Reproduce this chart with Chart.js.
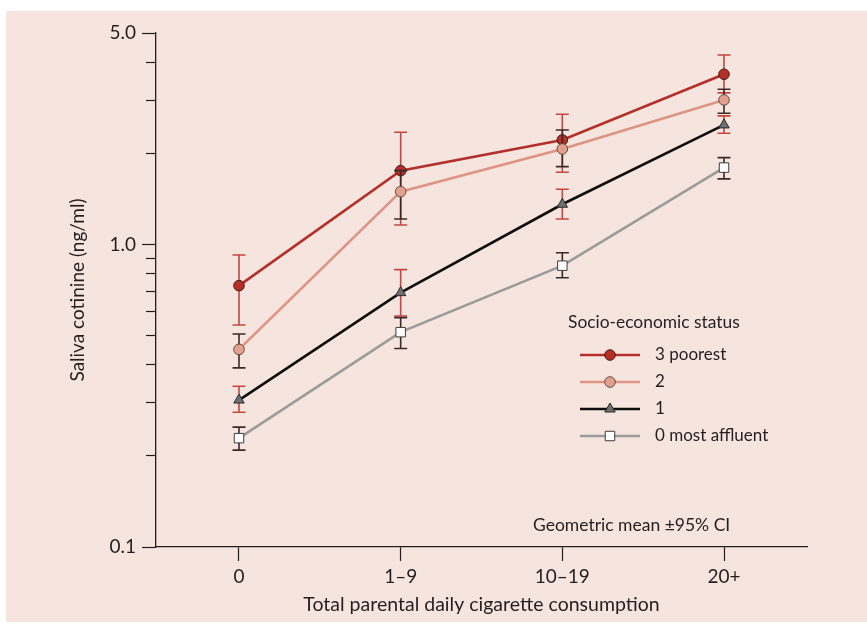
<!DOCTYPE html>
<html><head><meta charset="utf-8">
<script src="https://cdn.jsdelivr.net/npm/chart.js@4"></script>
<style>html,body{margin:0;padding:0;background:#fff}#wrap{width:867px;height:628px;position:relative}</style>
</head><body><div id="wrap"><canvas id="c"></canvas></div>
<script>
// ---- data ----
const categories = ['0', '1–9', '10–19', '20+'];
const seriesNames = ['3 poorest', '2', '1', '0 most affluent'];

const poorest      = [0.731, 1.754, 2.216, 3.653];
const poorestLow   = [0.542, 1.160, 1.733, 3.170];
const poorestHigh  = [0.923, 2.349, 2.695, 4.230];

const ses2         = [0.450, 1.495, 2.069, 3.004];
const ses2Low      = [0.391, 1.214, 1.808, 2.715];
const ses2High     = [0.506, 1.754, 2.391, 3.260];

const ses1         = [0.306, 0.693, 1.358, 2.484];
const ses1Low      = [0.279, 0.580, 1.214, 2.331];
const ses1High     = [0.340, 0.826, 1.522, 2.660];

const affluent     = [0.229, 0.513, 0.851, 1.795];
const affluentLow  = [0.209, 0.453, 0.776, 1.647];
const affluentHigh = [0.249, 0.573, 0.939, 1.936];

const yTickValues = [0.1, 0.2, 0.3, 0.4, 0.5, 0.6, 0.7, 0.8, 0.9, 1, 2, 3, 4, 5];
const yTickLabels = ['0.1', '1.0', '5.0'];
const yLabelledValues = [0.1, 1, 5];

const xTitle = 'Total parental daily cigarette consumption';
const yTitle = 'Saliva cotinine (ng/ml)';
const legendTitle = 'Socio-economic status';
const noteText = 'Geometric mean ±95% CI';

// ---- styling ----
const FONT = 'Lato, "Open Sans", sans-serif';
const TXT = '#231f20';
const styles = [
  {line: '#b3302a', fill: '#b52f27', border: '#4a1c17', shape: 'circle', r: 5.3, err: '#c4473f'},
  {line: '#dd9483', fill: '#e2a18e', border: '#6b4a40', shape: 'circle', r: 5.3, err: '#3a2b2a'},
  {line: '#0f0f0f', fill: '#6f6f6f', border: '#2a2a2a', shape: 'triangle', r: 6, err: '#c4473f'},
  {line: '#9b9b9b', fill: '#ffffff', border: '#3d3d3d', shape: 'rect', r: 6.7, err: '#3a2b2a'}
];
const values = [poorest, ses2, ses1, affluent];
const lows = [poorestLow, ses2Low, ses1Low, affluentLow];
const highs = [poorestHigh, ses2High, ses1High, affluentHigh];

const datasets = values.map((vals, k) => ({
  label: seriesNames[k],
  data: vals.map((v, i) => ({x: i, y: v})),
  borderColor: styles[k].line,
  borderWidth: 2.6,
  pointStyle: styles[k].shape,
  pointRadius: styles[k].r,
  pointHoverRadius: styles[k].r,
  pointBackgroundColor: styles[k].fill,
  pointBorderColor: styles[k].border,
  pointBorderWidth: 1,
  tension: 0,
  fill: false,
  order: 3 - k
}));

const bgPlugin = {
  id: 'bg',
  beforeDraw(chart) {
    const c = chart.ctx;
    c.save();
    c.fillStyle = '#ffffff';
    c.fillRect(0, 0, chart.width, chart.height);
    c.fillStyle = '#f6e4de';
    c.fillRect(6, 11, chart.width - 6, 611);
    c.restore();
  }
};

const errPlugin = {
  id: 'errbars',
  beforeDatasetDraw(chart, args) {
    const k = args.index;
    const xs = chart.scales.x, ys = chart.scales.y;
    const c = chart.ctx;
    c.save();
    c.strokeStyle = styles[k].err;
    c.lineWidth = 1.6;
    lows[k].forEach((lo, i) => {
      const x = xs.getPixelForValue(i);
      const y1 = ys.getPixelForValue(lo);
      const y2 = ys.getPixelForValue(highs[k][i]);
      c.beginPath();
      c.moveTo(x, y1); c.lineTo(x, y2);
      c.moveTo(x - 6.5, y1); c.lineTo(x + 6.5, y1);
      c.moveTo(x - 6.5, y2); c.lineTo(x + 6.5, y2);
      c.stroke();
    });
    c.restore();
  }
};

function drawMarker(c, st, x, y) {
  c.save();
  c.fillStyle = st.fill; c.strokeStyle = st.border; c.lineWidth = 1;
  c.beginPath();
  if (st.shape === 'circle') {
    c.arc(x, y, st.r, 0, Math.PI * 2);
  } else if (st.shape === 'triangle') {
    for (let j = 0; j < 3; j++) {
      const a = j * 2 * Math.PI / 3;
      const px = x + Math.sin(a) * st.r, py = y - Math.cos(a) * st.r;
      if (j === 0) c.moveTo(px, py); else c.lineTo(px, py);
    }
    c.closePath();
  } else {
    const s = Math.SQRT1_2 * st.r;
    c.rect(x - s, y - s, 2 * s, 2 * s);
  }
  c.fill(); c.stroke();
  c.restore();
}

const legendPlugin = {
  id: 'customLegend',
  afterDraw(chart) {
    const c = chart.ctx;
    c.save();
    c.fillStyle = TXT;
    c.textBaseline = 'middle';
    c.textAlign = 'left';
    c.font = '17.4px ' + FONT;
    c.fillText(legendTitle, 568, 322);
    c.font = '17px ' + FONT;
    chart.data.datasets.forEach((ds, k) => {
      const y = 355 + k * 27;
      c.strokeStyle = ds.borderColor;
      c.lineWidth = 2.6;
      c.beginPath(); c.moveTo(580, y); c.lineTo(640, y); c.stroke();
      drawMarker(c, styles[k], 610, y);
      c.fillStyle = TXT;
      c.fillText(ds.label, 655, y);
    });
    c.font = '17.5px ' + FONT;
    c.fillText(noteText, 533, 525);
    c.restore();
  }
};

const isMajor = v => yLabelledValues.some(m => Math.abs(m - v) < 1e-9);

new Chart(document.getElementById('c'), {
  type: 'line',
  data: {datasets},
  options: {
    responsive: true,
    maintainAspectRatio: false,
    animation: false,
    events: [],
    layout: {padding: {top: 33, right: 60, left: 0, bottom: 0}},
    plugins: {legend: {display: false}, tooltip: {enabled: false}},
    scales: {
      x: {
        type: 'linear',
        min: -0.5134, max: 3.5134,
        afterBuildTicks: s => { s.ticks = categories.map((_, i) => ({value: i})); },
        afterFit: s => { s.height = 81; },
        ticks: {
          callback: v => categories[v] ?? '',
          color: TXT, font: {family: FONT, size: 19}, padding: 4,
          autoSkip: false, maxRotation: 0
        },
        grid: {drawOnChartArea: false, drawTicks: true, tickLength: 14, tickColor: TXT, tickWidth: 1.2},
        border: {display: true, color: TXT, width: 1.3},
        title: {display: true, text: xTitle, color: TXT, font: {family: FONT, size: 19.5}, padding: {top: 0, bottom: 11.5}}
      },
      y: {
        type: 'logarithmic',
        min: 0.1, max: 5,
        afterBuildTicks: s => { s.ticks = yTickValues.map(v => ({value: v})); },
        afterFit: s => { s.width = 156; },
        ticks: {
          callback: v => { const j = yLabelledValues.findIndex(m => Math.abs(m - v) < 1e-9); return j >= 0 ? yTickLabels[j] : ''; },
          color: TXT, font: {family: FONT, size: 19}, padding: 6, autoSkip: false
        },
        grid: {
          drawOnChartArea: false, drawTicks: true, tickLength: 14, tickColor: TXT, tickWidth: 1.2,
          tickBorderDash: ctx => (ctx.tick && isMajor(ctx.tick.value)) ? [] : [10, 100],
          tickBorderDashOffset: ctx => (ctx.tick && isMajor(ctx.tick.value)) ? 0 : 106
        },
        border: {display: true, color: TXT, width: 1.3},
        title: {display: true, text: yTitle, color: TXT, font: {family: FONT, size: 19}, padding: {top: 66.5, bottom: 0}}
      }
    }
  },
  plugins: [bgPlugin, errPlugin, legendPlugin]
});
</script></body></html>
